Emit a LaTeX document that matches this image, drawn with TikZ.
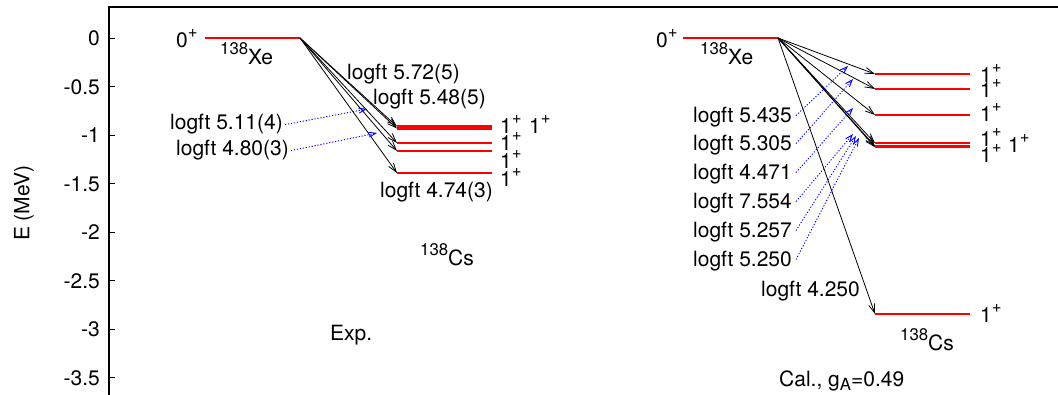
\documentclass[tikz,border=0pt]{standalone}
\usepackage{fontspec}
\setmainfont{TeX Gyre Heros}
\usetikzlibrary{arrows.meta}
\newcommand{\supx}[1]{\raisebox{10pt}{\fontsize{16.8}{18}\selectfont #1}}
\newcommand{\subx}[1]{\raisebox{-4pt}{\fontsize{16.8}{18}\selectfont #1}}
\begin{document}
\begin{tikzpicture}[x=1pt,y=-1pt,
  txt/.style={inner sep=0pt, font=\fontsize{21}{24}\selectfont, anchor=base west},
  ticklab/.style={inner sep=0pt, font=\fontsize{21}{24}\selectfont, anchor=east},
  lvl/.style={red, line width=2.2pt},
  tr/.style={black, line width=0.8pt, -{Straight Barb[length=9pt,width=6pt]}},
  lg/.style={blue, line width=0.9pt, dash pattern=on 1.2pt off 1.8pt, -{Straight Barb[length=7pt,width=5pt]}},
  frame/.style={black, line width=1.2pt},
  tickmark/.style={black, line width=0.8pt}]
\useasboundingbox (0,0) rectangle (1058,395);
% frame
\coordinate (fbl) at (109,395);
\coordinate (ftl) at (109,7);
\coordinate (ftr) at (1058,7);
\draw[frame] (fbl) -- (ftl) -- (ftr);
% ticks
\foreach \v/\lab [count=\k from 0] in {0/0,1/-0.5,2/-1,3/-1.5,4/-2,5/-2.5,6/-3,7/-3.5}{
  \coordinate (ta\k) at (109,38.3+48.5*\v);
  \coordinate (tb\k) at (115,38.3+48.5*\v);
  \draw[tickmark] (ta\k) -- (tb\k);
  \node[ticklab] (tl\k) at (100,38.3+48.5*\v) {\lab};
}
\node[inner sep=0pt, font=\fontsize{21}{24}\selectfont, rotate=90] (ylab) at (24,203) {E (MeV)};

% ===== left panel (Exp.) =====
\coordinate (xLa) at (205,38);
\coordinate (xLb) at (300,38);
\draw[lvl] (xLa) -- (xLb);
\node[txt] (x0l) at (176,48) {0\supx{+}};
\node[txt] (xel) at (220,65) {\supx{138}Xe};
\foreach \n/\y in {1/126.5,2/128.5,3/143,4/151,5/173}{
  \coordinate (cL\n a) at (397,\y);
  \coordinate (cL\n b) at (492,\y);
  \draw[lvl] (cL\n a) -- (cL\n b);
  \draw[tr] (xLb) -- (cL\n a);
}
\node[txt] (jL1) at (500,134) {1\supx{+}};
\node[txt] (jL1b) at (529,134) {1\supx{+}};
\node[txt] (jL3) at (500,151) {1\supx{+}};
\node[txt] (jL4) at (500,169) {1\supx{+}};
\node[txt] (jL5) at (500,187) {1\supx{+}};
\node[txt] (gL1) at (347,80) {logft 5.72(5)};
\node[txt] (gL2) at (373,105) {logft 5.48(5)};
\node[txt] (gL3) at (170,130) {logft 5.11(4)};
\node[txt] (gL4) at (176,156) {logft 4.80(3)};
\node[txt] (gL5) at (380,198) {logft 4.74(3)};
\coordinate (bL3) at (367,109);
\coordinate (bL4) at (377,133);
\draw[lg] ([xshift=2pt]gL3.east) -- (bL3);
\draw[lg] ([xshift=2pt]gL4.east) -- (bL4);
\node[txt] (csl) at (420,266) {\supx{138}Cs};
\node[txt] (exp) at (330,341) {Exp.};

% ===== right panel (Cal.) =====
\coordinate (xRa) at (683,38);
\coordinate (xRb) at (778,38);
\draw[lvl] (xRa) -- (xRb);
\node[txt] (x0r) at (656,48) {0\supx{+}};
\node[txt] (xer) at (700,65) {\supx{138}Xe};
\foreach \n/\y in {1/74,2/89,3/115,4/143.2,5/146.2,6/147.2,7/314}{
  \coordinate (cR\n a) at (875,\y);
  \coordinate (cR\n b) at (970,\y);
  \draw[lvl] (cR\n a) -- (cR\n b);
  \draw[tr] (xRb) -- (cR\n a);
}
\node[txt] (jR1) at (980,83) {1\supx{+}};
\node[txt] (jR2) at (980,98) {1\supx{+}};
\node[txt] (jR3) at (980,122) {1\supx{+}};
\node[txt] (jR4) at (980,147) {1\supx{+}};
\node[txt] (jR5) at (980,163) {1\supx{+}};
\node[txt] (jR6) at (1008,153) {1\supx{+}};
\node[txt] (jR7) at (980,323) {1\supx{+}};
\node[txt] (gR1) at (693,123) {logft 5.435};
\node[txt] (gR2) at (693,151) {logft 5.305};
\node[txt] (gR3) at (693,180) {logft 4.471};
\node[txt] (gR4) at (693,209) {logft 7.554};
\node[txt] (gR5) at (693,238) {logft 5.257};
\node[txt] (gR6) at (693,267) {logft 5.250};
\node[txt] (gR7) at (761,297) {logft 4.250};
\coordinate (bR1) at (848,66);
\coordinate (bR2) at (853,79);
\coordinate (bR3) at (853,108);
\coordinate (bR4) at (853,134);
\coordinate (bR5) at (856,136);
\coordinate (bR6) at (859,138);
\foreach \n in {1,...,6}{
  \draw[lg] ([xshift=4pt,yshift=2pt]gR\n.east) -- (bR\n);
}
\node[txt] (csr) at (900,351) {\supx{138}Cs};
\node[txt] (cal) at (779,387) {Cal., g\subx{A}=0.49};
\end{tikzpicture}
\end{document}
